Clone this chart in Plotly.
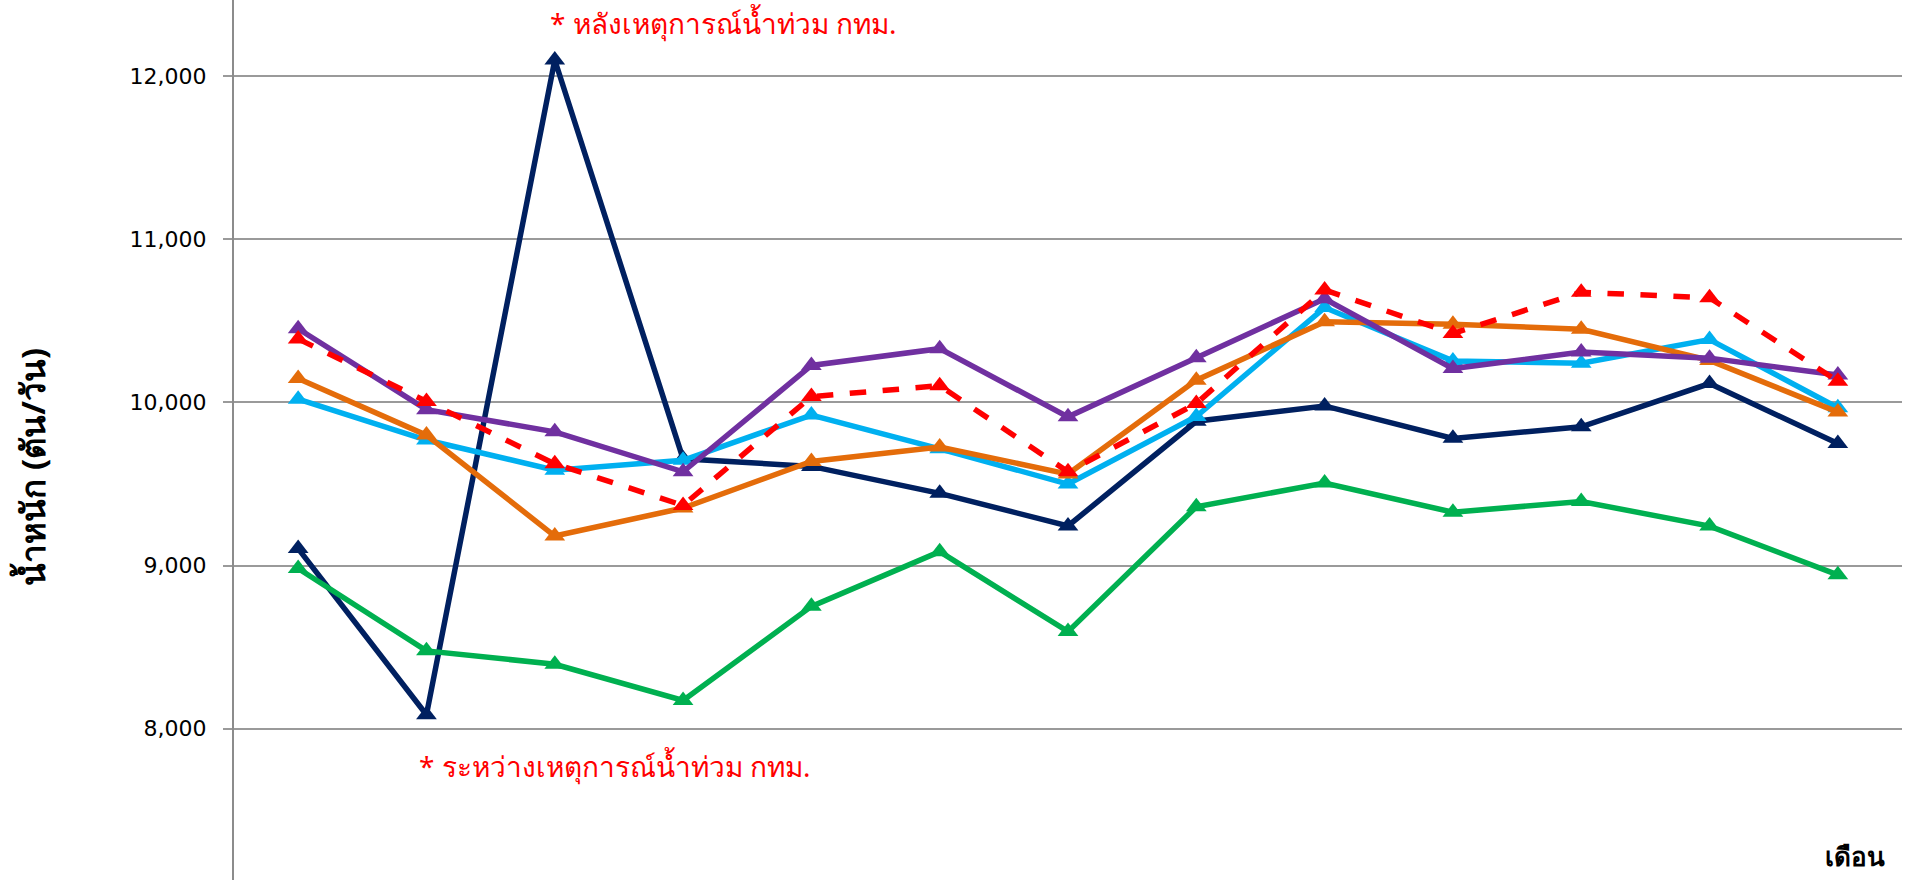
import plotly.graph_objects as go

# categories (13 months; labels are not visible in the reference)
months = ["1", "2", "3", "4", "5", "6", "7", "8", "9", "10", "11", "12", "13"]
xi = list(range(len(months)))

s_navy = [9104, 8085, 12100, 9655, 9608, 9443, 9243, 9885, 9979, 9780, 9851, 10116, 9749]
s_green = [8982, 8477, 8395, 8173, 8750, 9085, 8595, 9361, 9506, 9327, 9393, 9242, 8943]
s_cyan = [10020, 9770, 9585, 9646, 9923, 9716, 9500, 9914, 10582, 10255, 10241, 10386, 9968]
s_orange = [10147, 9800, 9181, 9353, 9638, 9727, 9561, 10137, 10495, 10480, 10449, 10258, 9941]
s_purple = [10452, 9956, 9820, 9575, 10227, 10330, 9912, 10275, 10636, 10208, 10309, 10272, 10168]
s_red = [10390, 10006, 9624, 9369, 10036, 10103, 9575, 9994, 10690, 10423, 10676, 10642, 10131]

series = [
    ("ปี 1", s_navy, "#002060", "solid", "triangle-up"),
    ("ปี 2", s_green, "#00B050", "solid", "triangle-up"),
    ("ปี 3", s_cyan, "#00B0F0", "solid", "triangle-up"),
    ("ปี 4", s_orange, "#E46C0A", "solid", "triangle-up"),
    ("ปี 5", s_purple, "#7030A0", "solid", "triangle-up"),
    ("ปี 6", s_red, "#FF0000", "dash", "triangle-up"),
]

fig = go.Figure()
for name, ys, col, dash, sym in series:
    fig.add_trace(go.Scatter(
        x=xi, y=ys, name=name, mode="lines+markers",
        line=dict(color=col, width=5.5, dash=dash),
        marker=dict(symbol=sym, size=18, color=col),
    ))

thai_font = "Noto Sans, DejaVu Sans, sans-serif"

fig.update_layout(
    width=1909, height=880,
    margin=dict(l=234, r=7, t=0, b=0),
    paper_bgcolor="white", plot_bgcolor="white",
    showlegend=False,
    xaxis=dict(range=[-0.5, 12.5], showticklabels=False, showgrid=False,
               zeroline=False, showline=False, ticks=""),
    yaxis=dict(range=[7072, 12468], tickvals=[8000, 9000, 10000, 11000, 12000],
               ticktext=["8,000", "9,000", "10,000", "11,000", "12,000"],
               showgrid=True, gridcolor="#9A9A9A", gridwidth=2,
               zeroline=False, showline=True, linecolor="#8C8C8C", linewidth=2,
               ticks="outside", ticklen=9, tickwidth=2, tickcolor="#9A9A9A",
               ticklabelstandoff=12,
               tickfont=dict(family="DejaVu Sans", size=22, color="#000000")),
    annotations=[
        dict(text="* หลังเหตุการณ์น้ำท่วม กทม.", x=1.95, y=12327, xref="x", yref="y",
             xanchor="left", yanchor="middle", showarrow=False,
             font=dict(family=thai_font, size=28, color="#FF0000")),
        dict(text="* ระหว่างเหตุการณ์น้ำท่วม กทม.", x=0.93, y=7774, xref="x", yref="y",
             xanchor="left", yanchor="middle", showarrow=False,
             font=dict(family=thai_font, size=28, color="#FF0000")),
        dict(text="<b>เดือน</b>", x=0.991, y=0.004, xref="paper", yref="paper",
             xanchor="right", yanchor="bottom", showarrow=False,
             font=dict(family=thai_font, size=26, color="#000000")),
        dict(text="<b>น้ำหนัก (ตัน/วัน)</b>", x=-0.121, y=0.47, xref="paper", yref="paper",
             xanchor="center", yanchor="middle", showarrow=False, textangle=-90,
             font=dict(family=thai_font, size=33, color="#000000")),
    ],
)

fig.write_html("out.html", config={"displayModeBar": False},
               post_script="document.body.style.margin='0';document.body.style.overflow='hidden';")
